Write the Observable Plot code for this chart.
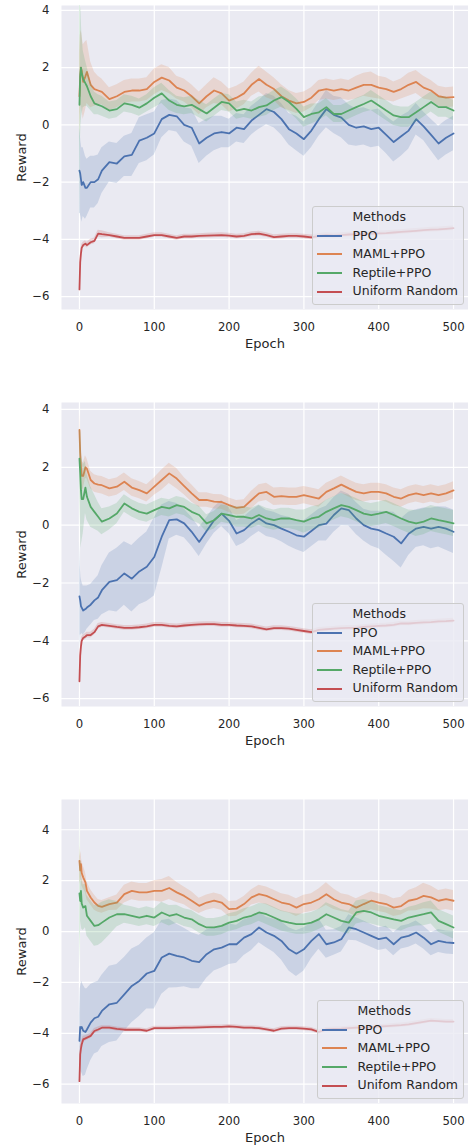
<!DOCTYPE html>
<html><head><meta charset="utf-8">
<script src="https://cdn.jsdelivr.net/npm/d3@7"></script>
<script src="https://cdn.jsdelivr.net/npm/@observablehq/plot@0.6"></script>
<style>
html,body{margin:0;padding:0;background:#fff;}
body{font-family:"DejaVu Sans",sans-serif;color:#262626;width:468px;height:1145px;position:relative;overflow:hidden;}
.panel{position:absolute;left:0;width:468px;}
.legend{position:absolute;right:4px;box-sizing:border-box;border:1px solid #cccccc;border-radius:3px;background:rgba(234,234,242,0.8);padding:1px 5px 3px 4px;font-size:12.5px;line-height:1;}
.row{display:flex;align-items:center;height:18.6px;white-space:nowrap;}
.sw{width:25px;height:0;border-top:2px solid;margin-right:11px;flex:none;}
</style></head><body>
<script>
// ---- data ----
const epochs = [0,1,2,3,5,8,10,15,20,25,30,40,50,60,70,80,90,100,110,120,130,140,150,160,170,180,190,200,210,220,230,240,250,260,270,280,290,300,310,320,330,340,350,360,370,380,390,400,410,420,430,440,450,460,470,480,490,500];
const methods = ["PPO","MAML+PPO","Reptile+PPO","Uniform Random"];
const colors = ["#4C72B0","#DD8452","#55A868","#C44E52"];
const legendLabels1 = ["PPO","MAML+PPO","Reptile+PPO","Uniform Random"];
const legendLabels2 = ["PPO","MAML+PPO","Reptile+PPO","Uniform Random"];
const legendLabels3 = ["PPO","MAML+PPO","Reptile+PPO","Unifom Random"];
const legendTitle = "Methods";
const xTicks = [0,100,200,300,400,500];
const yTicks = [-6,-4,-2,0,2,4];
const xLabel = "Epoch";
const yLabel = "Reward";

// Panel 1
const p1_ppo = [-1.6,-1.7,-1.9,-2.1,-2.0,-2.2,-2.2,-2.0,-2.0,-1.9,-1.6, -1.3,-1.35,-1.1,-1.05,-0.55,-0.45,-0.3,0.2,0.35,0.3,0.0,-0.1,-0.65,-0.45,-0.3,-0.25,-0.3,-0.1, -0.15,0.15,0.35,0.55,0.45,0.2,-0.15,-0.3,-0.5,-0.2,0.2,0.55,0.35,0.25,0.0,-0.1,-0.05,-0.15,-0.1,-0.35,-0.6,-0.4,-0.2,0.2,-0.05,-0.35,-0.65,-0.45,-0.3];
const p1_ppo_ci = [1.5,1.4,1.3,1.3,1.2,1.1,1.0,0.9,0.9,0.85,0.8, 0.7,0.7,0.7,0.75,0.8,0.8,0.75,0.65,0.55,0.55,0.6,0.65,0.7,0.65,0.6,0.55,0.5,0.5, 0.5,0.5,0.5,0.55,0.55,0.55,0.55,0.6,0.6,0.6,0.6,0.65,0.65,0.7,0.7,0.65,0.65,0.65,0.65,0.65,0.7,0.7,0.65,0.55,0.5,0.55,0.6,0.6,0.6];
const p1_maml = [1.0,1.7,2.0,1.9,1.5,1.7,1.85,1.4,1.25,1.2,1.15, 0.9,1.0,1.15,1.2,1.2,1.25,1.5,1.65,1.55,1.3,1.2,1.0,0.75,1.0,1.2,1.1,0.85,0.95, 1.1,1.4,1.6,1.4,1.25,1.0,0.85,0.75,0.8,0.95,1.2,1.25,1.2,1.25,1.2,1.3,1.4,1.4,1.3,1.25,1.15,1.25,1.4,1.5,1.3,1.2,1.0,0.95,0.97];
const p1_maml_ci = [1.5,1.4,1.3,1.3,1.3,1.2,1.1,0.8,0.6,0.5,0.45, 0.4,0.4,0.4,0.4,0.4,0.4,0.45,0.45,0.45,0.4,0.4,0.4,0.4,0.4,0.45,0.4,0.4,0.4, 0.4,0.4,0.45,0.45,0.4,0.4,0.35,0.35,0.35,0.35,0.35,0.35,0.35,0.35,0.35,0.4,0.4,0.45,0.4,0.4,0.35,0.35,0.4,0.4,0.4,0.35,0.35,0.35,0.35];
const p1_rep = [0.7,1.7,2.0,1.8,1.6,1.45,1.35,1.0,0.75,0.7,0.65, 0.5,0.55,0.75,0.7,0.6,0.75,0.95,1.1,0.85,0.7,0.65,0.7,0.55,0.4,0.6,0.8,0.75,0.5, 0.56,0.5,0.62,0.68,0.85,0.97,0.8,0.56,0.27,0.38,0.44,0.62,0.38,0.38,0.5,0.62,0.73,0.85,0.68,0.5,0.33,0.27,0.27,0.44,0.62,0.8,0.62,0.62,0.5];
const p1_rep_ci = [4.2,2.5,2.0,1.5,1.0,0.8,0.7,0.5,0.4,0.35,0.35, 0.3,0.3,0.3,0.3,0.3,0.3,0.35,0.35,0.35,0.3,0.3,0.3,0.3,0.3,0.3,0.3,0.3,0.3, 0.3,0.3,0.35,0.35,0.35,0.35,0.35,0.35,0.35,0.35,0.3,0.3,0.3,0.3,0.3,0.3,0.3,0.35,0.35,0.35,0.35,0.35,0.35,0.35,0.35,0.35,0.35,0.35,0.35];
const p1_uni = [-5.75,-4.8,-4.5,-4.3,-4.2,-4.15,-4.2,-4.1,-4.05,-3.8,-3.82, -3.85,-3.9,-3.95,-3.95,-3.95,-3.9,-3.85,-3.85,-3.9,-3.95,-3.9,-3.9,-3.88,-3.87,-3.86,-3.85,-3.87,-3.9, -3.88,-3.82,-3.8,-3.85,-3.92,-3.9,-3.88,-3.88,-3.9,-3.93,-3.88,-3.85,-3.87,-3.85,-3.83,-3.82,-3.82,-3.8,-3.79,-3.78,-3.76,-3.74,-3.72,-3.7,-3.68,-3.66,-3.65,-3.63,-3.61];
const p1_uni_ci = [0.2,0.2,0.15,0.12,0.1,0.1,0.1,0.1,0.1,0.12,0.12, 0.08,0.08,0.08,0.08,0.08,0.08,0.08,0.08,0.08,0.08,0.08,0.08,0.08,0.08,0.08,0.08,0.08,0.08, 0.08,0.08,0.08,0.08,0.08,0.08,0.08,0.08,0.08,0.08,0.08,0.08,0.08,0.08,0.08,0.08,0.08,0.08,0.08,0.08,0.08,0.08,0.08,0.08,0.08,0.08,0.08,0.08,0.08];

// Panel 2
const p2_ppo = [-2.46,-2.6,-2.8,-2.85,-2.95,-2.9,-2.85,-2.75,-2.6,-2.5,-2.25, -1.96,-1.9,-1.67,-1.85,-1.6,-1.44,-1.1,-0.4,0.17,0.2,0.06,-0.23,-0.58,-0.2,0.17,0.4,0.15,-0.29, -0.17,0.06,0.23,0.06,0.0,-0.12,-0.23,-0.35,-0.4,-0.2,0.0,0.05,0.35,0.58,0.52,0.23,0.0,-0.12,-0.17,-0.29,-0.4,-0.63,-0.3,-0.12,-0.06,-0.12,-0.06,-0.12,-0.23];
const p2_ppo_ci = [1.9,1.2,1.0,0.9,0.85,0.8,0.75,0.7,0.7,0.75,0.85, 1.0,1.1,1.1,1.15,1.15,1.2,1.35,1.1,0.65,0.55,0.5,0.5,0.5,0.45,0.45,0.45,0.45,0.45, 0.45,0.45,0.45,0.45,0.45,0.45,0.5,0.5,0.55,0.55,0.55,0.6,0.6,0.6,0.55,0.55,0.55,0.6,0.65,0.75,0.85,0.85,0.75,0.65,0.65,0.7,0.7,0.75,0.75];
const p2_maml = [3.29,2.5,2.0,1.7,1.7,2.0,1.95,1.56,1.44,1.4,1.38, 1.27,1.33,1.5,1.3,1.21,1.1,1.33,1.56,1.79,1.61,1.35,1.1,0.87,0.87,0.81,0.8,0.69,0.6, 0.63,0.87,1.1,1.15,0.98,1.0,0.98,0.98,1.04,0.98,0.92,1.15,1.27,1.4,1.27,1.15,1.1,1.15,1.15,1.1,0.98,0.92,1.04,1.1,1.04,1.1,1.04,1.1,1.2];
const p2_maml_ci = [0.6,0.6,0.55,0.5,0.45,0.4,0.35,0.3,0.3,0.3,0.3, 0.3,0.3,0.3,0.3,0.3,0.3,0.3,0.35,0.35,0.35,0.3,0.3,0.25,0.25,0.25,0.25,0.25,0.25, 0.25,0.3,0.3,0.3,0.3,0.3,0.3,0.3,0.3,0.3,0.3,0.3,0.3,0.3,0.3,0.3,0.3,0.3,0.3,0.3,0.3,0.3,0.3,0.3,0.3,0.3,0.3,0.3,0.3];
const p2_rep = [2.3,1.8,1.2,0.9,0.9,1.3,0.98,0.63,0.46,0.29,0.12, 0.23,0.4,0.75,0.58,0.46,0.4,0.52,0.63,0.58,0.69,0.63,0.46,0.35,0.06,0.17,0.4,0.35,0.29, 0.29,0.23,0.35,0.23,0.17,0.23,0.23,0.17,0.12,0.23,0.29,0.46,0.58,0.69,0.63,0.52,0.4,0.35,0.4,0.46,0.35,0.23,0.12,0.06,0.12,0.23,0.17,0.12,0.06];
const p2_rep_ci = [1.0,1.5,2.0,1.5,1.2,0.9,0.8,0.7,0.6,0.5,0.45, 0.4,0.35,0.3,0.3,0.3,0.3,0.3,0.3,0.3,0.3,0.3,0.3,0.3,0.3,0.3,0.3,0.3,0.35, 0.35,0.35,0.35,0.35,0.35,0.35,0.35,0.35,0.4,0.4,0.4,0.4,0.4,0.4,0.4,0.4,0.4,0.4,0.4,0.4,0.4,0.4,0.4,0.45,0.45,0.45,0.45,0.45,0.45];
const p2_uni = [-5.4,-4.5,-4.2,-4.0,-3.9,-3.85,-3.8,-3.8,-3.7,-3.5,-3.45, -3.48,-3.52,-3.55,-3.55,-3.53,-3.5,-3.45,-3.45,-3.48,-3.5,-3.47,-3.45,-3.43,-3.42,-3.42,-3.45,-3.45,-3.47, -3.48,-3.5,-3.55,-3.6,-3.56,-3.56,-3.58,-3.62,-3.66,-3.7,-3.62,-3.6,-3.58,-3.56,-3.55,-3.55,-3.52,-3.5,-3.48,-3.47,-3.45,-3.4,-3.4,-3.38,-3.36,-3.35,-3.33,-3.32,-3.3];
const p2_uni_ci = [0.4,0.2,0.15,0.12,0.1,0.1,0.1,0.1,0.1,0.1,0.08, 0.08,0.08,0.08,0.08,0.08,0.08,0.08,0.08,0.08,0.08,0.08,0.08,0.08,0.08,0.08,0.08,0.08,0.08, 0.08,0.08,0.08,0.08,0.08,0.08,0.08,0.08,0.08,0.08,0.08,0.08,0.08,0.08,0.08,0.08,0.08,0.08,0.08,0.08,0.08,0.08,0.08,0.08,0.08,0.08,0.08,0.08,0.08];

// Panel 3
const p3_ppo = [-4.3,-3.75,-3.8,-3.75,-3.9,-3.95,-3.85,-3.58,-3.41,-3.35,-3.12, -2.86,-2.8,-2.47,-2.14,-1.94,-1.65,-1.55,-1.02,-0.87,-0.96,-1.02,-1.15,-1.2,-0.89,-0.7,-0.63,-0.5,-0.5, -0.24,-0.1,0.16,-0.04,-0.17,-0.37,-0.7,-0.87,-0.7,-0.37,-0.1,-0.5,-0.43,-0.3,0.16,0.09,-0.04,-0.17,-0.3,-0.24,-0.5,-0.24,-0.17,-0.04,-0.24,-0.5,-0.37,-0.43,-0.45];
const p3_ppo_ci = [1.0,1.5,1.7,1.8,1.8,1.7,1.6,1.5,1.4,1.4,1.4, 1.5,1.5,1.45,1.45,1.4,1.4,1.5,1.45,1.35,1.25,1.15,1.1,1.05,0.95,0.85,0.8,0.8,0.75, 0.7,0.65,0.6,0.6,0.65,0.75,0.85,0.9,0.85,0.7,0.6,0.55,0.5,0.5,0.5,0.45,0.45,0.45,0.45,0.45,0.45,0.45,0.45,0.45,0.45,0.45,0.45,0.45,0.45];
const p3_maml = [2.78,2.4,2.65,2.3,2.13,1.93,1.6,1.34,1.14,1.01,0.97, 1.08,1.14,1.47,1.6,1.54,1.54,1.6,1.6,1.71,1.54,1.4,1.21,1.01,1.14,1.21,1.14,0.88,0.9, 1.08,1.34,1.47,1.4,1.27,1.14,1.08,0.94,1.08,1.14,1.27,1.47,1.27,1.14,1.08,0.94,1.08,1.21,1.14,1.08,0.94,1.0,1.21,1.27,1.4,1.34,1.21,1.27,1.21];
const p3_maml_ci = [0.6,0.55,0.5,0.5,0.45,0.4,0.35,0.3,0.3,0.25,0.25, 0.25,0.3,0.35,0.35,0.35,0.35,0.4,0.45,0.45,0.4,0.35,0.35,0.3,0.3,0.3,0.3,0.3,0.3, 0.3,0.3,0.35,0.35,0.35,0.35,0.35,0.35,0.35,0.35,0.4,0.45,0.4,0.35,0.35,0.35,0.35,0.35,0.35,0.35,0.35,0.35,0.4,0.45,0.5,0.45,0.4,0.4,0.4];
const p3_rep = [1.5,1.2,1.6,1.1,0.94,1.0,0.62,0.42,0.22,0.25,0.35, 0.55,0.68,0.68,0.62,0.55,0.62,0.55,0.75,0.62,0.68,0.55,0.48,0.29,0.16,0.16,0.22,0.35,0.42, 0.55,0.62,0.75,0.68,0.55,0.42,0.35,0.29,0.29,0.35,0.48,0.68,0.55,0.42,0.35,0.75,0.81,0.75,0.62,0.55,0.48,0.42,0.55,0.62,0.68,0.75,0.42,0.29,0.16];
const p3_rep_ci = [3.0,1.5,1.2,1.0,0.9,0.85,0.8,0.8,0.8,0.8,0.8, 0.7,0.5,0.35,0.35,0.35,0.35,0.35,0.4,0.4,0.35,0.35,0.35,0.35,0.35,0.35,0.35,0.35,0.35, 0.35,0.35,0.35,0.4,0.4,0.4,0.4,0.4,0.4,0.4,0.4,0.45,0.45,0.45,0.45,0.45,0.45,0.45,0.4,0.4,0.4,0.4,0.4,0.4,0.45,0.45,0.45,0.45,0.45];
const p3_uni = [-5.88,-4.83,-4.6,-4.44,-4.24,-4.2,-4.17,-4.1,-3.91,-3.85,-3.78, -3.78,-3.83,-3.86,-3.86,-3.86,-3.9,-3.8,-3.8,-3.8,-3.79,-3.78,-3.78,-3.77,-3.76,-3.75,-3.75,-3.73,-3.75, -3.78,-3.78,-3.8,-3.85,-3.9,-3.82,-3.8,-3.8,-3.82,-3.85,-3.95,-3.85,-3.83,-3.82,-3.8,-3.78,-3.78,-3.76,-3.74,-3.72,-3.7,-3.68,-3.65,-3.6,-3.55,-3.5,-3.52,-3.54,-3.54];
const p3_uni_ci = [0.35,0.3,0.2,0.15,0.12,0.1,0.1,0.1,0.1,0.1,0.08, 0.08,0.08,0.08,0.08,0.08,0.08,0.08,0.08,0.08,0.08,0.08,0.08,0.08,0.08,0.08,0.08,0.08,0.08, 0.08,0.08,0.08,0.08,0.08,0.08,0.08,0.08,0.08,0.08,0.08,0.08,0.08,0.08,0.08,0.08,0.08,0.08,0.08,0.08,0.08,0.08,0.08,0.08,0.08,0.08,0.08,0.08,0.08];

// ---- layout ----
const panels = [
  {top: 0,   mt: 5,  mb: 45, yDomain: [-6.45, 4.17], legendTop: 206, labels: legendLabels1,
   series: [[p1_ppo,p1_ppo_ci],[p1_maml,p1_maml_ci],[p1_rep,p1_rep_ci],[p1_uni,p1_uni_ci]]},
  {top: 392, mt: 10, mb: 45, yDomain: [-6.27, 4.24], legendTop: 211, labels: legendLabels2,
   series: [[p2_ppo,p2_ppo_ci],[p2_maml,p2_maml_ci],[p2_rep,p2_rep_ci],[p2_uni,p2_uni_ci]]},
  {top: 789, mt: 10, mb: 42, yDomain: [-6.76, 5.19], legendTop: 211, labels: legendLabels3,
   series: [[p3_ppo,p3_ppo_ci],[p3_maml,p3_maml_ci],[p3_rep,p3_rep_ci],[p3_uni,p3_uni_ci]]}
];

function toRows(mean, ci, method) {
  const out = [];
  for (let i = 0; i < epochs.length; i++) {
    if (mean[i] == null || ci[i] == null) continue;
    out.push({epoch: epochs[i], method, v: mean[i], lo: mean[i] - ci[i], hi: mean[i] + ci[i]});
  }
  return out;
}

for (const p of panels) {
  const wrap = document.createElement("div");
  wrap.className = "panel";
  wrap.style.top = p.top + "px";
  const marks = [
    Plot.frame({fill: "#EAEAF2", stroke: "none"}),
    Plot.gridX(xTicks, {stroke: "#ffffff", strokeOpacity: 1, strokeWidth: 1.2}),
    Plot.gridY(yTicks, {stroke: "#ffffff", strokeOpacity: 1, strokeWidth: 1.2})
  ];
  p.series.forEach(([mean, ci], k) => {
    const rows = toRows(mean, ci, methods[k]);
    marks.push(Plot.line(rows, {x: "epoch", y: "v", stroke: colors[k], strokeWidth: 1.8, clip: true}));
    marks.push(Plot.areaY(rows, {x: "epoch", y1: "lo", y2: "hi", fill: colors[k], fillOpacity: 0.2, clip: true}));
  });
  marks.push(
    Plot.axisX(xTicks, {tickSize: 0, tickPadding: 13.5, fontSize: 11.7, label: null}),
    Plot.axisY(yTicks, {tickSize: 0, tickPadding: 12, fontSize: 11.7, label: null}),
    Plot.text([xLabel], {frameAnchor: "bottom", dy: 34, fontSize: 13, textAnchor: "middle", lineAnchor: "middle", text: d => d}),
    Plot.text([yLabel], {frameAnchor: "left", dx: -40, rotate: -90, fontSize: 13, textAnchor: "middle", lineAnchor: "middle", text: d => d})
  );
  const svg = Plot.plot({
    width: 468,
    height: p.mt + 304 + p.mb,
    marginTop: p.mt, marginBottom: p.mb, marginLeft: 61, marginRight: 0,
    x: {domain: [-24, 520]},
    y: {domain: p.yDomain},
    style: {fontFamily: "DejaVu Sans", color: "#262626", background: "transparent", overflow: "visible"},
    marks
  });
  svg.style.display = "block";
  wrap.appendChild(svg);

  const lg = document.createElement("div");
  lg.className = "legend";
  lg.style.top = p.legendTop + "px";
  const title = document.createElement("div");
  title.className = "row";
  title.innerHTML = '<span class="sw" style="border-color:transparent"></span>';
  title.appendChild(document.createTextNode(legendTitle));
  lg.appendChild(title);
  p.labels.forEach((lab, k) => {
    const r = document.createElement("div");
    r.className = "row";
    const sw = document.createElement("span");
    sw.className = "sw";
    sw.style.borderColor = colors[k];
    r.appendChild(sw);
    r.appendChild(document.createTextNode(lab));
    lg.appendChild(r);
  });
  wrap.appendChild(lg);
  document.body.appendChild(wrap);
}
</script>
</body></html>
